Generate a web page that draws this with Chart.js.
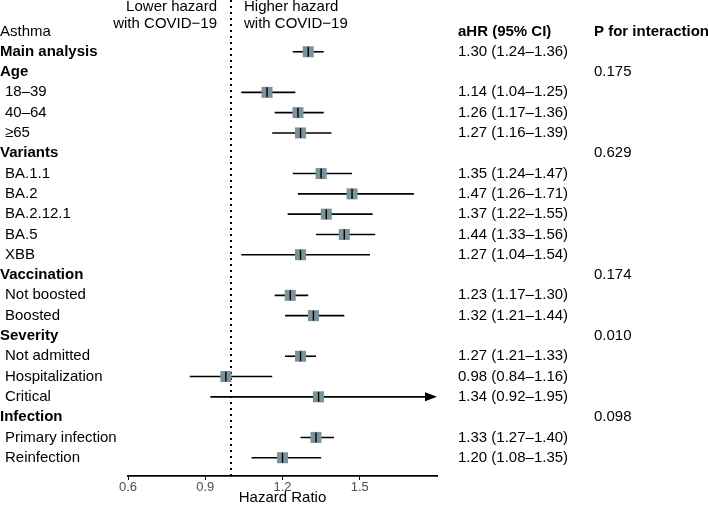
<!DOCTYPE html>
<html>
<head>
<meta charset="utf-8">
<script src="https://cdn.jsdelivr.net/npm/chart.js@4"></script>
<style>
  body { margin: 0; background: #fff; }
</style>
</head>
<body>
<canvas id="forestChart" width="708" height="509"></canvas>
<script>
// row labels, top to bottom (row 0 is the column header row)
const labels = ['Asthma', 'Main analysis', 'Age', '18–39', '40–64', '≥65', 'Variants', 'BA.1.1', 'BA.2',
  'BA.2.12.1', 'BA.5', 'XBB', 'Vaccination', 'Not boosted', 'Boosted', 'Severity', 'Not admitted',
  'Hospitalization', 'Critical', 'Infection', 'Primary infection', 'Reinfection'];
const boldRows = [false, true, true, false, false, false, true, false, false,
  false, false, false, true, false, false, true, false,
  false, false, true, false, false];
const hr = [null, 1.30, null, 1.14, 1.26, 1.27, null, 1.35, 1.47,
  1.37, 1.44, 1.27, null, 1.23, 1.32, null, 1.27,
  0.98, 1.34, null, 1.33, 1.20];
const lower = [null, 1.24, null, 1.04, 1.17, 1.16, null, 1.24, 1.26,
  1.22, 1.33, 1.04, null, 1.17, 1.21, null, 1.21,
  0.84, 0.92, null, 1.27, 1.08];
const upper = [null, 1.36, null, 1.25, 1.36, 1.39, null, 1.47, 1.71,
  1.55, 1.56, 1.54, null, 1.30, 1.44, null, 1.33,
  1.16, 1.95, null, 1.40, 1.35];
const pInteraction = ['', '', '0.175', '', '', '', '0.629', '', '',
  '', '', '', '0.174', '', '', '0.010', '',
  '', '', '0.098', '', ''];
const xTicks = [0.6, 0.9, 1.2, 1.5];

const FONT = '"Liberation Sans", Arial, Helvetica, sans-serif';
const fmt = (v) => v.toFixed(2);

const points = hr.map((v, i) => (v === null ? null : { x: v, y: i })).filter((p) => p);

// draws the CI whiskers, ref line and the text columns using the chart scales
const forestPlugin = {
  id: 'forest',
  beforeDatasetsDraw(chart) {
    const { ctx, scales: { x, y }, chartArea } = chart;
    ctx.save();
    // dotted line at HR = 1
    ctx.strokeStyle = '#000';
    ctx.lineWidth = 2;
    ctx.setLineDash([2, 4]);
    ctx.beginPath();
    ctx.moveTo(x.getPixelForValue(1), chartArea.top);
    ctx.lineTo(x.getPixelForValue(1), chartArea.bottom);
    ctx.stroke();
    ctx.setLineDash([]);

    // confidence intervals
    ctx.lineWidth = 1.6;
    hr.forEach((v, i) => {
      if (v === null) return;
      const yp = y.getPixelForValue(i);
      const clipped = upper[i] > x.max;
      const x0 = x.getPixelForValue(Math.max(lower[i], x.min));
      const x1 = x.getPixelForValue(Math.min(upper[i], x.max));
      ctx.beginPath();
      ctx.moveTo(x0, yp);
      ctx.lineTo(clipped ? x1 - 6 : x1, yp);
      ctx.stroke();
      if (clipped) {
        ctx.fillStyle = '#000';
        ctx.beginPath();
        ctx.moveTo(x1, yp);
        ctx.lineTo(x1 - 12, yp - 4.5);
        ctx.lineTo(x1 - 12, yp + 4.5);
        ctx.closePath();
        ctx.fill();
      }
    });
    ctx.restore();
  },
  afterDatasetsDraw(chart) {
    const { ctx, scales: { x, y } } = chart;
    ctx.save();
    // small vertical mark at each estimate
    ctx.strokeStyle = '#000';
    ctx.lineWidth = 1.4;
    hr.forEach((v, i) => {
      if (v === null) return;
      const xp = x.getPixelForValue(v);
      const yp = y.getPixelForValue(i);
      ctx.beginPath();
      ctx.moveTo(xp, yp - 5);
      ctx.lineTo(xp, yp + 5);
      ctx.stroke();
    });

    ctx.fillStyle = '#000';
    ctx.textBaseline = 'middle';
    labels.forEach((lab, i) => {
      const yp = y.getPixelForValue(i);
      const head = i === 0 || boldRows[i];
      ctx.font = (boldRows[i] ? 'bold ' : '') + '15px ' + FONT;
      ctx.textAlign = 'left';
      ctx.fillText(lab, head ? 0 : 5, yp);
      ctx.font = '15px ' + FONT;
      if (hr[i] !== null) {
        ctx.fillText(fmt(hr[i]) + ' (' + fmt(lower[i]) + '–' + fmt(upper[i]) + ')', 458, yp);
      }
      if (pInteraction[i]) ctx.fillText(pInteraction[i], 594, yp);
    });
    const y0 = y.getPixelForValue(0);
    ctx.font = 'bold 15px ' + FONT;
    ctx.fillText('aHR (95% CI)', 458, y0);
    ctx.fillText('P for interaction', 594, y0);

    // direction labels either side of the reference line
    const ref = x.getPixelForValue(1);
    ctx.font = '15px ' + FONT;
    ctx.textAlign = 'right';
    ctx.fillText('Lower hazard', ref - 14, 7);
    ctx.fillText('with COVID−19', ref - 14, 24);
    ctx.textAlign = 'left';
    ctx.fillText('Higher hazard', ref + 13, 7);
    ctx.fillText('with COVID−19', ref + 13, 24);
    ctx.restore();
  }
};

new Chart(document.getElementById('forestChart').getContext('2d'), {
  type: 'scatter',
  data: {
    datasets: [{
      data: points,
      pointStyle: 'rect',
      pointRadius: 7.8,
      pointHoverRadius: 7.8,
      backgroundColor: '#7b939d',
      borderWidth: 0
    }]
  },
  options: {
    responsive: false,
    animation: false,
    events: [],
    layout: { autoPadding: false, padding: { left: 128, right: 271, top: 0, bottom: 0 } },
    plugins: { legend: { display: false }, tooltip: { enabled: false } },
    scales: {
      x: {
        type: 'linear',
        min: 0.6,
        max: 1.8,
        afterBuildTicks: (scale) => {
          scale.ticks = xTicks.map((v) => ({ value: v }));
        },
        afterFit: (scale) => { scale.height = 33; },
        border: { display: true, color: '#000', width: 1.8 },
        grid: { drawOnChartArea: false, drawTicks: true, tickLength: 4, color: '#000' },
        ticks: { color: '#4d4d4d', font: { family: FONT, size: 13 }, padding: 0, callback: (v) => v.toFixed(1) },
        title: { display: true, text: 'Hazard Ratio', color: '#000', font: { family: FONT, size: 15 }, padding: { top: 0, bottom: 2 } }
      },
      y: {
        type: 'linear',
        display: false,
        reverse: true,
        min: -1.55,
        max: 21.9
      }
    }
  },
  plugins: [forestPlugin]
});
</script>
</body>
</html>
